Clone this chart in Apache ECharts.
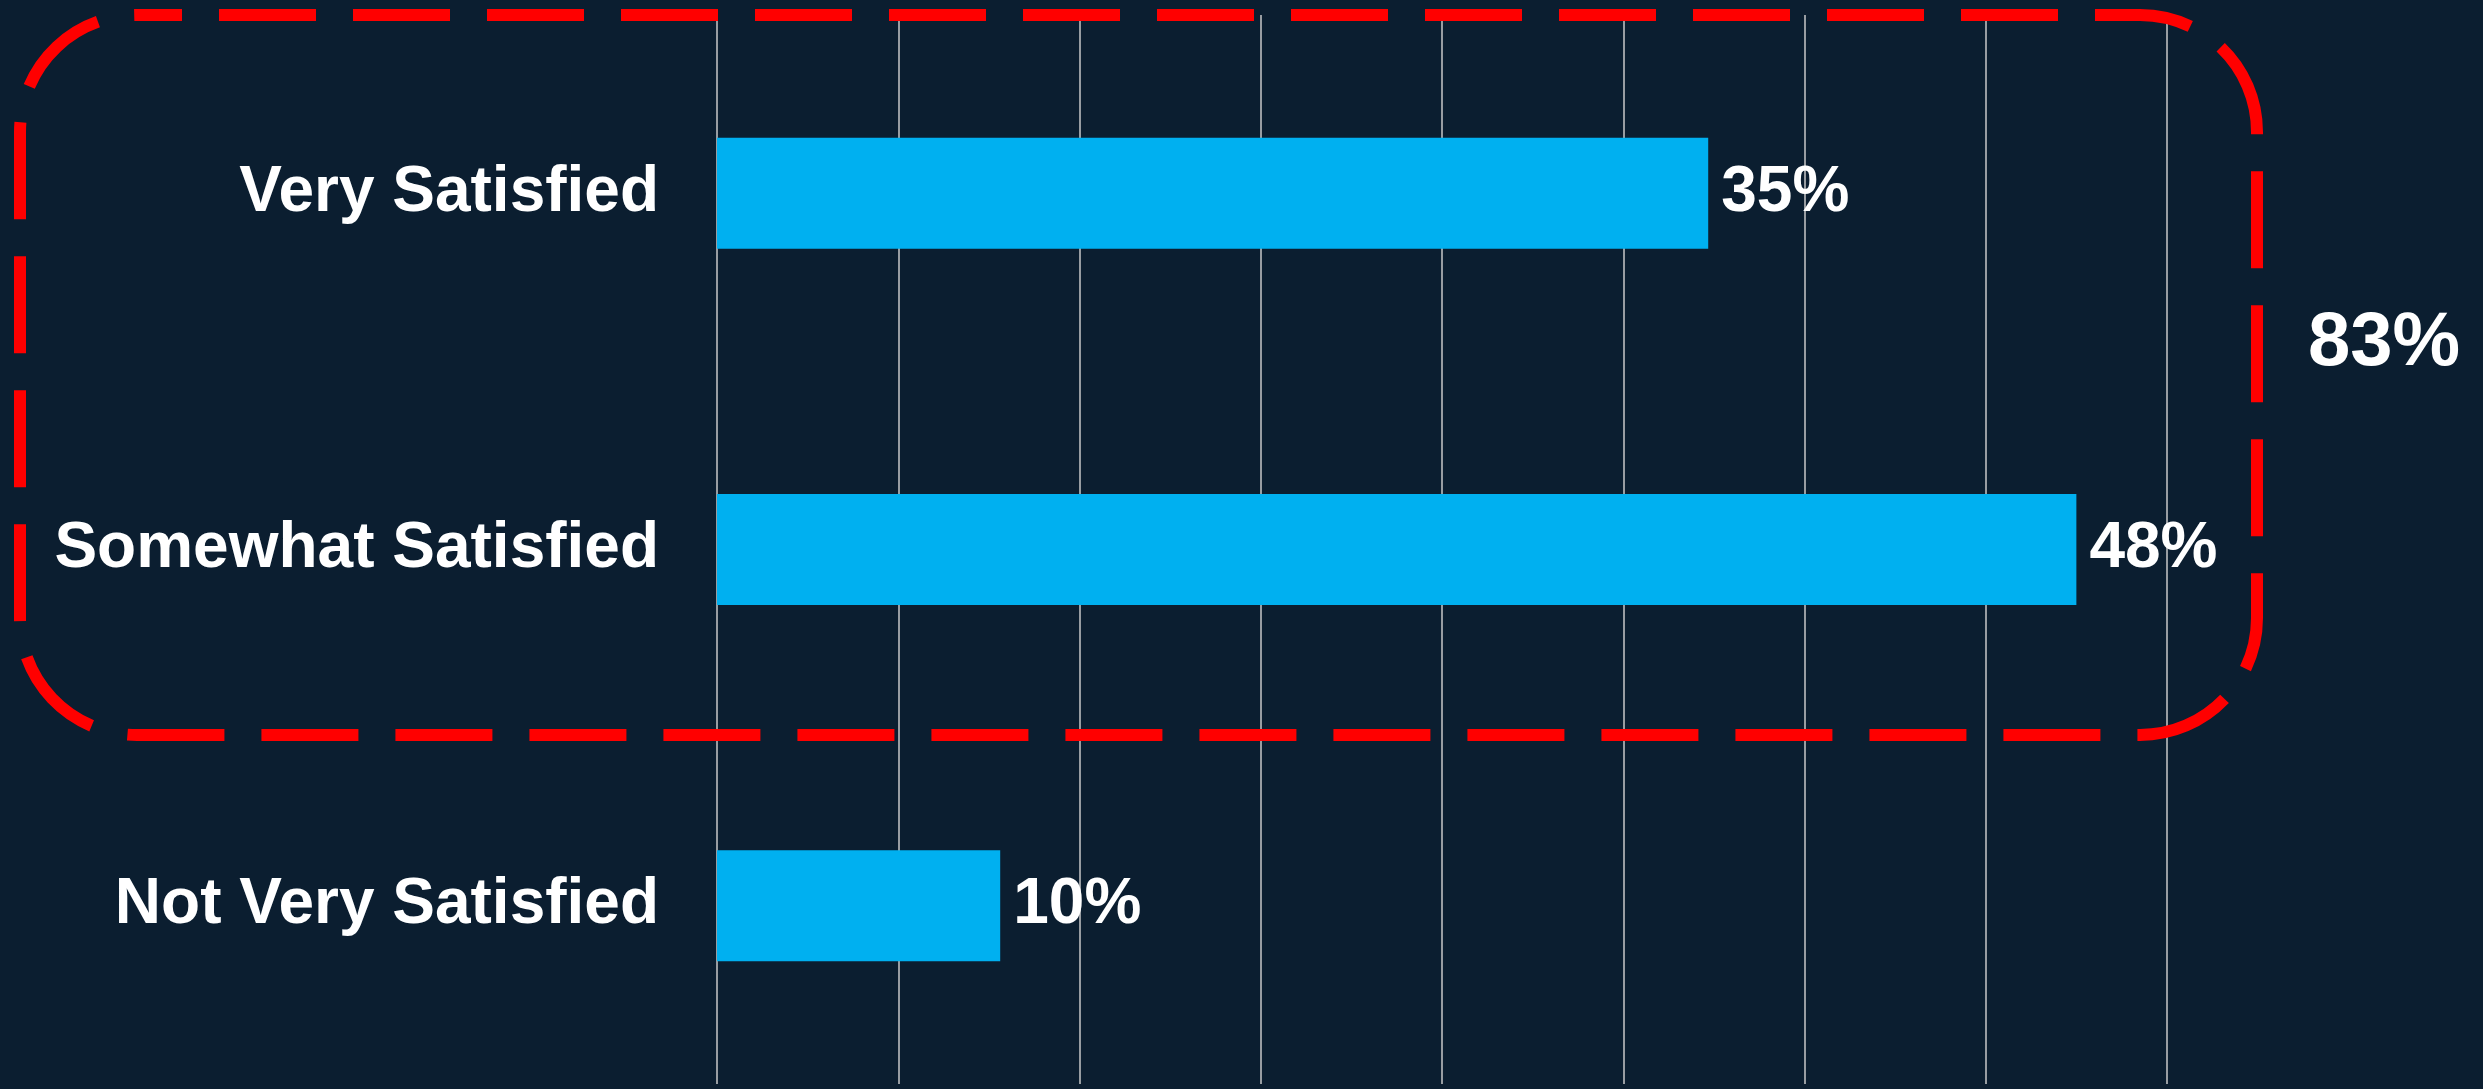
<!DOCTYPE html>
<html>
<head>
<meta charset="utf-8">
<title>Satisfaction</title>
<script src="https://cdn.jsdelivr.net/npm/echarts@6/dist/echarts.min.js"></script>
<style>
  html, body { margin: 0; padding: 0; background: #0b1e30; }
  #chart { width: 2483px; height: 1089px; }
</style>
</head>
<body>
<div id="chart"></div>
<script>
// Survey answers, top to bottom
const categories = ['Very Satisfied', 'Somewhat Satisfied', 'Not Very Satisfied'];
// Share of respondents, percent
const values = [35, 48, 10];
// The two satisfied groups are summed in the bracket callout
const groupedIdx = [0, 1];

const axisMax = 51.2;
const axisInterval = 6.4;

const FONT = '"Liberation Sans", Arial, sans-serif';
const groupedTotal = groupedIdx.reduce((s, i) => s + values[i], 0);

const chart = echarts.init(document.getElementById('chart'), null, { renderer: 'canvas' });

chart.setOption({
  backgroundColor: '#0b1e30',
  animation: false,
  grid: { left: 717, right: 316, top: 15, bottom: 5, containLabel: false },
  xAxis: {
    type: 'value',
    min: 0,
    max: axisMax,
    interval: axisInterval,
    axisLabel: { show: false },
    axisLine: { show: false },
    axisTick: { show: false },
    splitLine: { show: true, lineStyle: { color: '#c9c9c9', width: 1.5 } }
  },
  yAxis: {
    type: 'category',
    data: categories,
    inverse: true,
    axisLine: { show: false },
    axisTick: { show: false },
    axisLabel: {
      color: '#ffffff',
      fontFamily: FONT,
      fontWeight: 'bold',
      fontSize: 64,
      margin: 58,
      padding: [6, 0, 0, 0]
    }
  },
  series: [{
    type: 'bar',
    data: values,
    barWidth: 111,
    itemStyle: { color: '#00b0f0' },
    label: {
      show: true,
      position: 'right',
      distance: 13,
      padding: [6, 0, 0, 0],
      formatter: p => p.value + '%',
      color: '#ffffff',
      fontFamily: FONT,
      fontWeight: 'bold',
      fontSize: 64
    }
  }],
  graphic: [
    {
      // dashed rounded bracket around the satisfied groups
      type: 'rect',
      z: 100,
      shape: { x: 20, y: 15, width: 2237, height: 720, r: 117 },
      style: {
        fill: 'none',
        stroke: '#ff0000',
        lineWidth: 12,
        lineDash: [97, 37],
        lineDashOffset: 52,
        lineCap: 'butt'
      }
    },
    {
      type: 'text',
      z: 100,
      x: 2384,
      y: 344,
      style: {
        text: groupedTotal + '%',
        fill: '#ffffff',
        font: 'bold 76px ' + FONT,
        textAlign: 'center',
        textVerticalAlign: 'middle'
      }
    }
  ]
});
</script>
</body>
</html>
